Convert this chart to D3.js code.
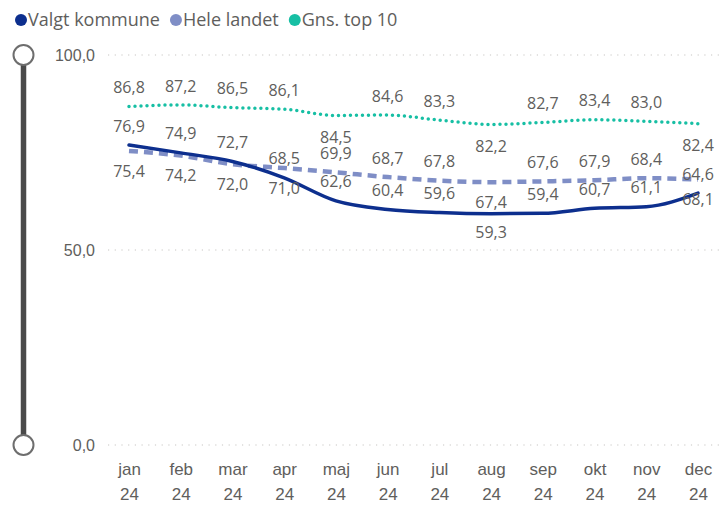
<!DOCTYPE html>
<html>
<head>
<meta charset="utf-8">
<script src="https://cdn.jsdelivr.net/npm/d3@7"></script>
<style>
  html, body { margin: 0; padding: 0; background: #fff; }
  svg { display: block; font-family: "Segoe UI", "Open Sans", "Noto Sans", sans-serif; }
</style>
</head>
<body>
<svg id="chart" width="720" height="508"></svg>
<script>
const months = ["jan","feb","mar","apr","maj","jun","jul","aug","sep","okt","nov","dec"];
const yearLabel = "24";
const seriesNames = ["Valgt kommune", "Hele landet", "Gns. top 10"];
const valgtKommune = [76.9, 74.9, 72.7, 68.5, 62.6, 60.4, 59.6, 59.3, 59.4, 60.7, 61.1, 64.6];
const heleLandet   = [75.4, 74.2, 72.0, 71.0, 69.9, 68.7, 67.8, 67.4, 67.6, 67.9, 68.4, 68.1];
const gnsTop10     = [86.8, 87.2, 86.5, 86.1, 84.5, 84.6, 83.3, 82.2, 82.7, 83.4, 83.0, 82.4];
const yTicks = [0, 50, 100];

// label placement per point: "a" = above, "b" = below (presentation)
const labelPlace = [
  ["a","a","a","a","a","a","a","b","a","a","a","a"],
  ["b","b","b","b","a","a","a","b","a","a","a","b"],
  ["a","a","a","a","b","a","a","b","a","a","a","b"]
];
const belowOffset = [19, 20, 22];

const colors = ["#0D2F8E", "#7F8EC6", "#17BFA4"];
const textColor = "#605E5C";
const fmt = v => d3.format(".1f")(v).replace(".", ",");

const svg = d3.select("#chart");
const x = d3.scalePoint().domain(months).range([129, 698]);
const y = d3.scaleLinear().domain([0, 100]).range([445, 55]);

// gridlines
svg.append("g").selectAll("line").data(yTicks).join("line")
  .attr("x1", 108).attr("x2", 720)
  .attr("y1", d => y(d)).attr("y2", d => y(d))
  .attr("stroke", "#C8C6C4").attr("stroke-width", 1.2)
  .attr("stroke-dasharray", "1.2,5.5");

// y axis labels
const yAxis = d3.axisLeft(y).tickValues(yTicks).tickFormat(fmt).tickSize(0).tickPadding(0);
const gy = svg.append("g").attr("transform", "translate(95,0)").call(yAxis);
gy.select(".domain").remove();
gy.selectAll("text").attr("fill", textColor).style("font-size", "16px")
  .attr("font-family", null).attr("dy", "0.35em");

// x axis labels
const xAxis = d3.axisBottom(x).tickSize(0).tickPadding(0);
const gx = svg.append("g").attr("transform", "translate(0,463)").call(xAxis);
gx.select(".domain").remove();
gx.selectAll(".tick text").each(function(d) {
  const t = d3.select(this).text(null).attr("fill", textColor)
    .style("font-size", "17px").attr("font-family", null).attr("dy", null);
  t.append("tspan").attr("x", 0).attr("y", 0).attr("dy", "0.71em").text(d);
  t.append("tspan").attr("x", 0).attr("y", 25).attr("dy", "0.71em").text(yearLabel);
});

// slider
svg.append("line").attr("x1", 23.5).attr("x2", 23.5).attr("y1", y(100)).attr("y2", y(0))
  .attr("stroke", "#4A4A4A").attr("stroke-width", 5.5);
svg.append("g").selectAll("circle").data([100, 0]).join("circle")
  .attr("cx", 23.5).attr("cy", d => y(d)).attr("r", 10)
  .attr("fill", "#fff").attr("stroke", "#6E6E6E").attr("stroke-width", 2);

// lines
const allSeries = [valgtKommune, heleLandet, gnsTop10];
const line = d3.line().x((d, i) => x(months[i])).y(d => y(d)).curve(d3.curveMonotoneX);
const styles = [
  { w: 3.5, dash: null, cap: "round" },
  { w: 4.5, dash: "9,6", cap: "butt" },
  { w: 3.5, dash: "0,6", cap: "round" }
];
// draw order: green, hele, valgt
[2, 1, 0].forEach(si => {
  svg.append("path").datum(allSeries[si])
    .attr("d", line)
    .attr("fill", "none")
    .attr("stroke", colors[si])
    .attr("stroke-width", styles[si].w)
    .attr("stroke-linecap", styles[si].cap)
    .attr("stroke-linejoin", "round")
    .attr("stroke-dasharray", styles[si].dash);
});

// data labels
allSeries.forEach((vals, si) => {
  svg.append("g").selectAll("text").data(vals).join("text")
    .attr("x", (d, i) => x(months[i]))
    .attr("y", (d, i) => y(d) + (labelPlace[si][i] === "a" ? -19 : belowOffset[si]))
    .attr("dy", "0.35em")
    .attr("text-anchor", "middle")
    .attr("fill", textColor)
    .style("font-size", "16px")
    .text(d => fmt(d));
});

// legend
const legend = svg.append("g").attr("transform", "translate(0,20)");
let lx = 21;
seriesNames.forEach((name, i) => {
  const g = legend.append("g");
  g.append("circle").attr("cx", lx).attr("cy", 0).attr("r", 6).attr("fill", colors[i]);
  const t = g.append("text").attr("x", lx + 7).attr("y", 0).attr("dy", "0.35em")
    .attr("fill", textColor).style("font-size", "18px").text(name);
  lx += 7 + t.node().getComputedTextLength() + 16;
});
</script>
</body>
</html>
